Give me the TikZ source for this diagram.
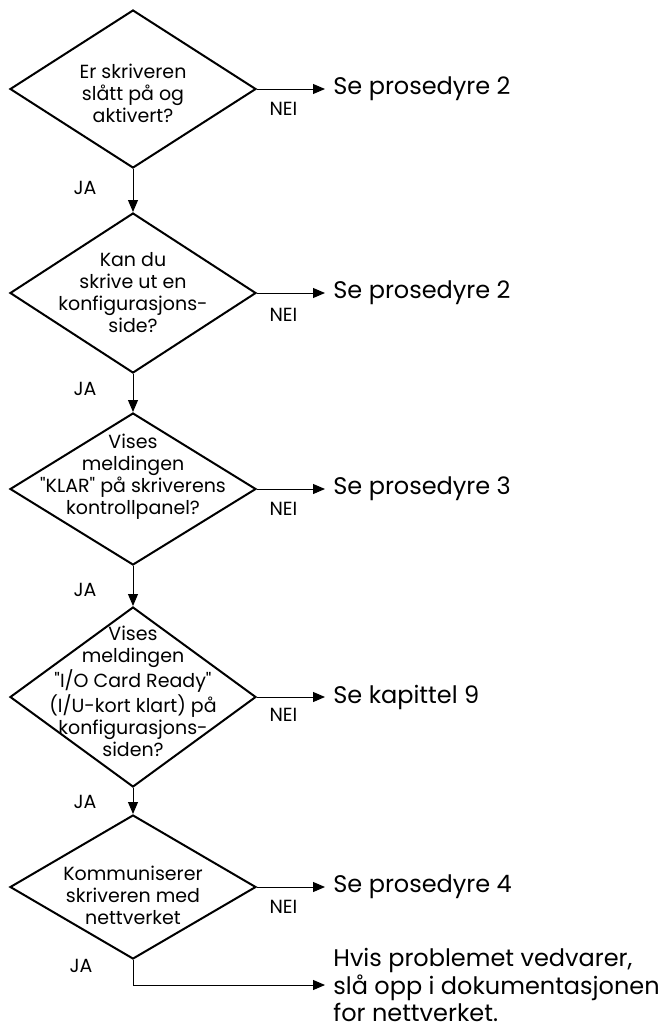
\documentclass[tikz,border=0pt]{standalone}
\usepackage{fontspec}
\setmainfont{Poppins}[Ligatures=TeXOff]
\usetikzlibrary{shapes.geometric,arrows.meta}

\tikzset{
  decision/.style={draw, diamond, line width=1pt, inner sep=0pt, minimum width=123pt},
  qtext/.style={align=center, inner sep=0pt, font=\fontsize{9.5}{11}\selectfont},
  target/.style={anchor=west, align=left, inner xsep=4pt, inner ysep=0pt,
                 font=\fontsize{12}{11.4}\selectfont},
  conn/.style={line width=0.5pt, -{Triangle[length=6pt,width=5pt]}},
  yn/.style={font=\fontsize{9.5}{10}\selectfont, inner sep=0pt}
}

\begin{document}
\begin{tikzpicture}[x=0.5pt,y=-0.5pt]

  \useasboundingbox (0,0) rectangle (668,1035);

  \node[decision, minimum height=79pt] (d1) at (133,89) {};
  \node[decision, minimum height=80pt] (d2) at (133,293) {};
  \node[decision, minimum height=76pt] (d3) at (133,489) {};
  \node[decision, minimum height=90pt] (d4) at (133,697) {};
  \node[decision, minimum height=72pt] (d5) at (133,887) {};

  \node[qtext] (q1) at (133,93) {Er skriveren\\slått på og\\aktivert?};
  \node[qtext] (q2) at (133,293) {Kan du\\skrive ut en\\konfigurasjons-\\side?};
  \node[qtext] (q3) at (133,477) {Vises\\meldingen\\"KLAR" på skriverens\\kontrollpanel?};
  \node[qtext] (q4) at (133,691) {Vises\\meldingen\\"I/O Card Ready"\\(I/U-kort klart) på\\konfigurasjons-\\siden?};
  \node[qtext] (q5) at (133,895) {Kommuniserer\\skriveren med\\nettverket};

  \node[target] (t1) at (325,89) {Se prosedyre 2};
  \node[target] (t2) at (325,293) {Se prosedyre 2};
  \node[target] (t3) at (325,489) {Se prosedyre 3};
  \node[target] (t4) at (325,697) {Se kapittel 9};
  \node[target] (t5) at (325,887) {Se prosedyre 4};
  \node[target] (t6) at (325,985) {Hvis problemet vedvarer,\\slå opp i dokumentasjonen\\for nettverket.};

  % NEI
  \draw[conn] (d1.east) -- node[yn, pos=0.39, yshift=-10pt] {NEI} (t1.west);
  \draw[conn] (d2.east) -- node[yn, pos=0.39, yshift=-11pt] {NEI} (t2.west);
  \draw[conn] (d3.east) -- node[yn, pos=0.39, yshift=-10pt] {NEI} (t3.west);
  \draw[conn] (d4.east) -- node[yn, pos=0.39, yshift=-9pt] {NEI} (t4.west);
  \draw[conn] (d5.east) -- node[yn, pos=0.39, yshift=-10pt] {NEI} (t5.west);

  % JA
  \draw[conn] (d1.south) -- node[yn, pos=0.44, xshift=-24pt] {JA} (d2.north);
  \draw[conn] (d2.south) -- node[yn, pos=0.38, xshift=-24pt] {JA} (d3.north);
  \draw[conn] (d3.south) -- node[yn, pos=0.6, xshift=-24pt] {JA} (d4.north);
  \draw[conn] (d4.south) -- node[yn, pos=0.54, xshift=-24pt] {JA} (d5.north);
  \draw[conn] (d5.south) |- node[yn, pos=0.12, xshift=-26pt] {JA} (t6.west);

\end{tikzpicture}
\end{document}
